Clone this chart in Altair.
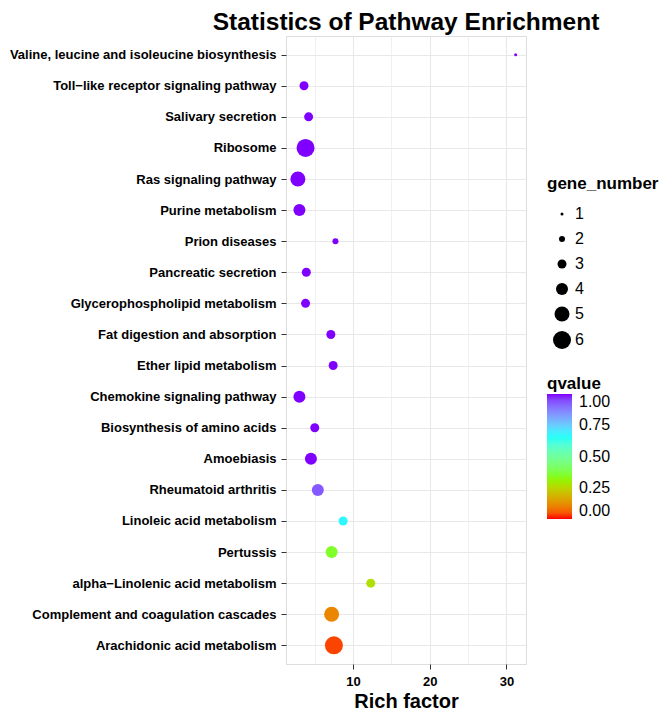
import altair as alt
import pandas as pd

pathways = [
    "Valine, leucine and isoleucine biosynthesis",
    "Toll\u2212like receptor signaling pathway",
    "Salivary secretion",
    "Ribosome",
    "Ras signaling pathway",
    "Purine metabolism",
    "Prion diseases",
    "Pancreatic secretion",
    "Glycerophospholipid metabolism",
    "Fat digestion and absorption",
    "Ether lipid metabolism",
    "Chemokine signaling pathway",
    "Biosynthesis of amino acids",
    "Amoebiasis",
    "Rheumatoid arthritis",
    "Linoleic acid metabolism",
    "Pertussis",
    "alpha\u2212Linolenic acid metabolism",
    "Complement and coagulation cascades",
    "Arachidonic acid metabolism",
]
rich_factor = [31.2, 3.6, 4.2, 3.8, 2.8, 3.0, 7.7, 3.9, 3.8, 7.1,
               7.4, 3.0, 5.0, 4.5, 5.4, 8.7, 7.2, 12.3, 7.2, 7.5]
gene_number = [1, 3, 3, 6, 5, 4, 2, 3, 3, 3,
               3, 4, 3, 4, 4, 3, 4, 3, 5, 6]
qvalue = [1.0, 1.0, 1.0, 1.0, 1.0, 1.0, 1.0, 1.0, 1.0, 1.0,
          1.0, 1.0, 1.0, 1.0, 0.93, 0.68, 0.35, 0.27, 0.11, 0.03]

x_ticks = [5, 10, 15, 20, 25, 30]
size_levels = [1, 2, 3, 4, 5, 6]
q_ticks = [0, 0.25, 0.5, 0.75, 1]
rainbow4 = ["#FF0000", "#80FF00", "#00FFFF", "#8000FF"]

df = pd.DataFrame({
    "pathway": pathways,
    "rich": rich_factor,
    "gene_number": gene_number,
    "qvalue": qvalue,
})

FONT = "Liberation Sans"
major = "datum.value % 10 === 0"

chart = alt.Chart(df).mark_circle(opacity=1, strokeWidth=0).encode(
    x=alt.X(
        "rich:Q",
        scale=alt.Scale(domain=[1.25, 32.55], nice=False, zero=False),
        axis=alt.Axis(
            values=x_ticks,
            labelExpr=f"{major} ? datum.label : ''",
            tickOpacity={"condition": {"test": major, "value": 1}, "value": 0},
            gridWidth={"condition": {"test": major, "value": 1.1}, "value": 0.6},
            gridColor="#E8E8E8",
            title="Rich factor",
            titleFont=FONT, titleFontSize=20, titleFontWeight="bold", titleColor="black",
            titlePadding=3,
            labelFont=FONT, labelFontSize=13, labelFontWeight="bold", labelColor="black",
            labelPadding=6,
            tickSize=5, tickColor="#333333", tickWidth=1,
            domain=False,
        ),
    ),
    y=alt.Y(
        "pathway:N",
        sort=pathways,
        scale=alt.Scale(padding=0.6),
        axis=alt.Axis(
            title=None,
            grid=True,
            labelFont=FONT, labelFontSize=13, labelFontWeight="bold", labelColor="black",
            labelPadding=5, labelLimit=400,
            tickSize=5, tickColor="#333333", tickWidth=1,
            gridColor="#E8E8E8", gridWidth=1.1,
            domain=False,
        ),
    ),
    size=alt.Size(
        "gene_number:Q",
        scale=alt.Scale(type="pow", exponent=2, domain=[0, 6], range=[0, 324]),
        legend=alt.Legend(
            title="gene_number",
            values=size_levels,
            orient="none", legendX=261, legendY=140,
            titleFont=FONT, titleFontSize=17, titleFontWeight="bold", titleColor="black",
            labelFont=FONT, labelFontSize=16, labelColor="black",
            symbolFillColor="black", symbolStrokeWidth=0, symbolOpacity=1,
            symbolType="circle", rowPadding=9, labelOffset=4, symbolOffset=6,
            titlePadding=13,
        ),
    ),
    color=alt.Color(
        "qvalue:Q",
        scale=alt.Scale(domain=[0, 1], range=rainbow4, interpolate="lab"),
        legend=alt.Legend(
            title="qvalue",
            values=q_ticks, format=".2f",
            orient="none", legendX=261, legendY=340,
            direction="vertical",
            gradientLength=125, gradientThickness=25, gradientStrokeWidth=0,
            titleFont=FONT, titleFontSize=17, titleFontWeight="bold", titleColor="black",
            labelFont=FONT, labelFontSize=16, labelColor="black", labelOffset=7,
            titlePadding=1,
        ),
    ),
).properties(
    width=240,
    height=628,
    padding={"left": 1, "top": 1, "right": 0, "bottom": 0},
    title=alt.TitleParams(
        "Statistics of Pathway Enrichment",
        font=FONT, fontSize=24.5, fontWeight="bold", color="black",
        anchor="middle", offset=1,
    ),
).configure_view(
    stroke="#333333", strokeWidth=1.2, fill="white"
).configure(background="white")

chart.save("out.html", embed_options={"renderer": "svg", "actions": False})
